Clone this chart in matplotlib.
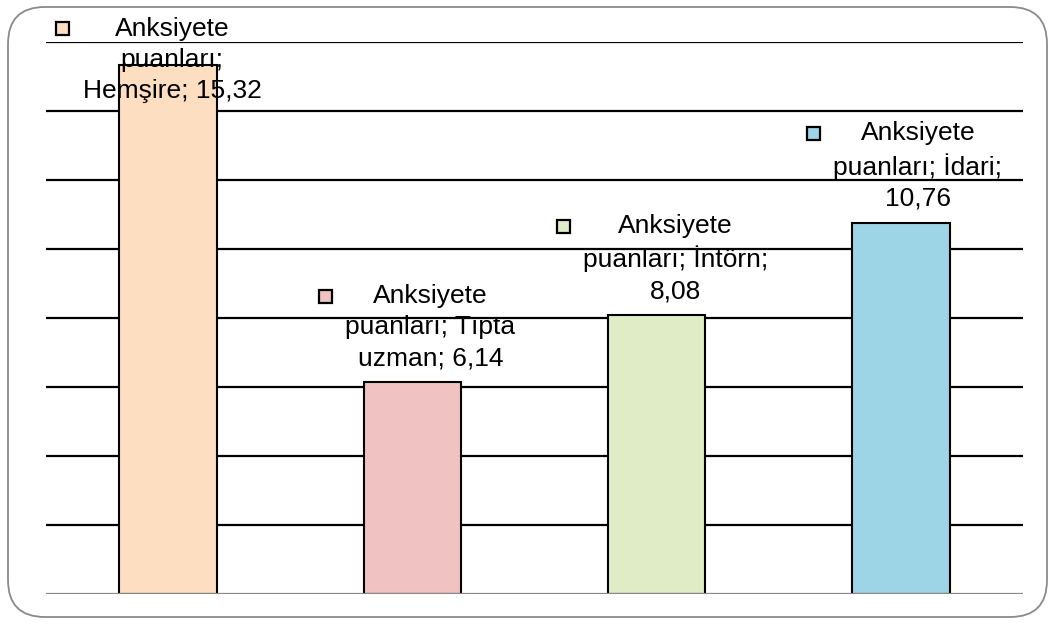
import matplotlib
matplotlib.use("Agg")
import matplotlib.pyplot as plt
from matplotlib.patches import FancyBboxPatch, Rectangle
import numpy as np

categories = ["Hemşire", "Tıpta uzman", "İntörn", "İdari"]
values = [15.32, 6.14, 8.08, 10.76]
series_name = "Anksiyete puanları"
label_texts = ["Anksiyete\npuanları;\nHemşire; 15,32",
               "Anksiyete\npuanları; Tıpta\nuzman; 6,14",
               "Anksiyete\npuanları; İntörn;\n8,08",
               "Anksiyete\npuanları; İdari;\n10,76"]
label_dx = [4, 18, 19, 17]
colors = ["#FDDEC0", "#F0C2C2", "#DFECC6", "#9DD5E6"]

plt.rcParams['font.family'] = ['Liberation Sans', 'DejaVu Sans']

W, H = 1054, 624
fig = plt.figure(figsize=(W/100, H/100), dpi=100)
ax = fig.add_axes([46/W, 30/H, (1023-46)/W, (594-42)/H])
ax.set_xlim(-0.5, 3.5)
ax.set_ylim(0, 16)
for s in ax.spines.values():
    s.set_visible(False)
ax.set_xticks([])
ax.set_yticks([])

# gridlines
for g in np.arange(2, 17, 2):
    ax.axhline(g, color="black", lw=1.6, zorder=1)
ax.axhline(0, color="#888888", lw=1.6, zorder=5)

x = np.arange(len(values))
ax.bar(x, values, width=0.4, color=colors, edgecolor="none", zorder=2)
ax.bar(x, values, width=0.4, color="none", edgecolor="black", lw=1.5, zorder=4)

# rounded border
border = FancyBboxPatch((8/W, 7/H), (1047-8)/W, (617-7)/H,
                        boxstyle="round,pad=0,rounding_size=0.035",
                        transform=fig.transFigure, facecolor="none",
                        edgecolor="#8a8a8a", lw=1.3, mutation_aspect=W/H)
fig.patches.append(border)

fig.canvas.draw()
renderer = fig.canvas.get_renderer()
for i, (v, t, c, dx) in enumerate(zip(values, label_texts, colors, label_dx)):
    txt = ax.annotate(t, xy=(i, v), xytext=(dx, 12), textcoords="offset pixels",
                      ha="center", va="bottom", multialignment="center",
                      fontsize=19, linespacing=1.36, zorder=3, annotation_clip=False)
    bb = txt.get_window_extent(renderer)
    top_limit = H - 17
    if bb.y1 > top_limit:
        shift = bb.y1 - top_limit
        txt.xyann = (dx, 12 - shift)
        bb = txt.get_window_extent(renderer)
    # legend key
    nlines = t.count("\n") + 1
    lh = bb.height / nlines
    kx = bb.x0 - 20
    ky = bb.y1 - lh * 0.42
    sz = 13
    fig.patches.append(Rectangle((kx - sz/2, ky - sz/2), sz, sz, transform=None,
                                 facecolor=c, edgecolor="black", lw=1.6, zorder=6))

fig.savefig("out.png", dpi=100)
